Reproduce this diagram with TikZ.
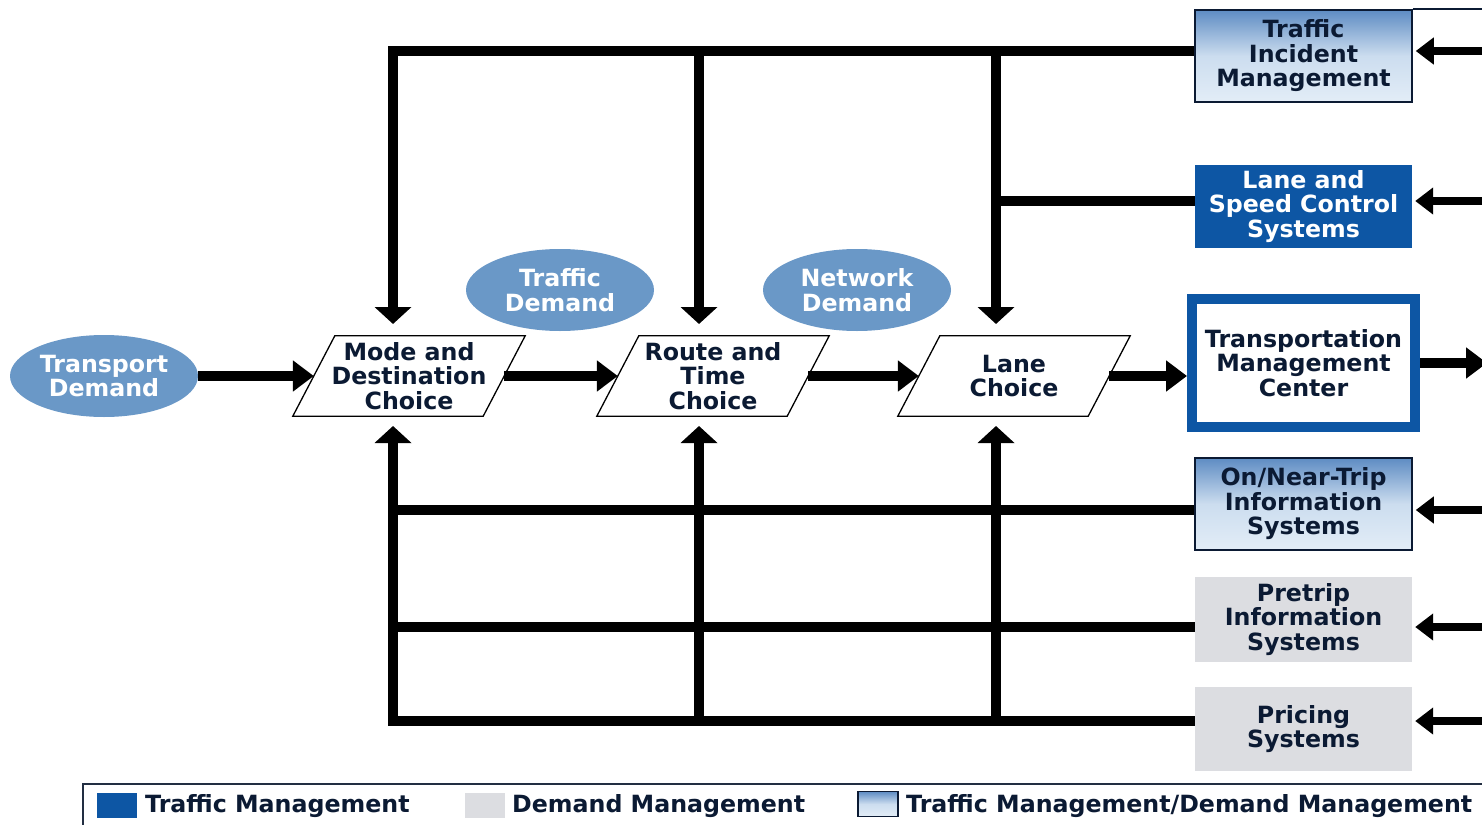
\documentclass[tikz,border=0pt]{standalone}
\usepackage{fontspec}
\setmainfont{DejaVu Sans}
\usetikzlibrary{arrows.meta,shapes.geometric,calc}
\definecolor{ellblue}{HTML}{6A98C7}
\definecolor{tmblue}{HTML}{0D56A4}
\definecolor{dmgray}{HTML}{DCDDE1}
\definecolor{navy}{HTML}{0B1A33}
\definecolor{gradtop}{HTML}{5E8CC3}
\definecolor{gradmid}{HTML}{CCDDEF}
\definecolor{gradbot}{HTML}{E3EDF7}
\begin{document}
\begin{tikzpicture}[x=1pt,y=-1pt,
  lbl/.style={font=\fontsize{23.7}{24.5}\selectfont\bfseries, align=center, text=navy},
  demand/.style={ellipse, fill=ellblue, minimum width=188pt, minimum height=82pt, inner sep=0pt, lbl, text=white},
  choice/.style={rectangle, minimum width=190pt, minimum height=80pt, inner sep=0pt, lbl},
  sysbox/.style={rectangle, minimum width=217pt, inner sep=0pt, lbl},
  tmbox/.style={sysbox, fill=tmblue, text=white},
  dmbox/.style={sysbox, fill=dmgray},
  mixbox/.style={sysbox, draw=navy, line width=1.5pt, top color=gradtop, bottom color=gradbot, middle color=gradmid},
  paraline/.style={draw=black, line width=1.3pt, line join=miter},
  bus/.style={draw=black, line width=10pt, line join=miter},
  vtip/.style={-{Triangle[length=17pt,width=36pt]}},
  flow/.style={draw=black, line width=10pt, -{Triangle[length=21pt,width=30pt]}},
  inarrow/.style={draw=black, line width=8pt, -{Triangle[length=18pt,width=26pt]}, shorten >=3pt},
  legline/.style={draw=navy!80!gray, line width=1.6pt}
]
\path[use as bounding box, fill=white] (0,0) rectangle (1482,824);

% helper coordinates
\coordinate (xA) at (393,0);
\coordinate (xB) at (699,0);
\coordinate (xC) at (996,0);
\coordinate (xIn) at (1484,0);
\coordinate (xOut) at (1487,0);
\coordinate (yTop) at (0,51);
\coordinate (yLS) at (0,201);
\coordinate (yOn) at (0,510);
\coordinate (yPre) at (0,627);
\coordinate (yPr) at (0,721);
\coordinate (yDn) at (0,324);
\coordinate (yUp) at (0,426);

% demand ellipses
\node[demand] (td) at (104,376) {Transport\\Demand};
\node[demand] (trd) at (560,290) {Traffic\\Demand};
\node[demand] (nd) at (857,290) {Network\\Demand};

% choices
\node[choice] (mode) at (409,376) {Mode and\\Destination\\Choice};
\node[choice] (route) at (713,376) {Route and\\Time\\Choice};
\node[choice] (lane) at (1014,376) {Lane\\Choice};
\foreach \n in {mode,route,lane}
  \draw[paraline] ($(\n.north west)+(21,0)$) -- ($(\n.north east)+(21,0)$)
    -- ($(\n.south east)+(-21,0)$) -- ($(\n.south west)+(-21,0)$) -- cycle;

% system boxes
\node[mixbox, minimum height=92pt] (tim) at (1303.5,56) {Traffic\\Incident\\Management};
\node[tmbox, minimum height=83pt] (lsc) at (1303.5,206.5) {Lane and\\Speed Control\\Systems};
\node[rectangle, draw=tmblue, line width=10pt, fill=white, minimum width=223pt, minimum height=128pt, inner sep=0pt, lbl] (tmc) at (1303.5,363) {Transportation\\Management\\Center};
\node[mixbox, minimum height=92pt] (onear) at (1303.5,504) {On/Near-Trip\\Information\\Systems};
\node[dmbox, minimum height=85pt] (pretrip) at (1303.5,619.5) {Pretrip\\Information\\Systems};
\node[dmbox, minimum height=84pt] (pricing) at (1303.5,729) {Pricing\\Systems};

% thin top line
\draw[line width=1.5pt, navy] (tim.north east) -- (xIn |- tim.north east);

% top bus
\draw[bus, vtip] (tim.west |- yTop) -- (xA |- yTop) -- (xA |- yDn);
\draw[bus, vtip] (xB |- yTop) -- (xB |- yDn);
\draw[bus, vtip] (xC |- yTop) -- (xC |- yDn);
\draw[bus] (xC |- yLS) -- (lsc.west |- yLS);

% bottom bus
\draw[bus, vtip] (pricing.west |- yPr) -- (xA |- yPr) -- (xA |- yUp);
\draw[bus, vtip] (xB |- yPr) -- (xB |- yUp);
\draw[bus, vtip] (xC |- yPr) -- (xC |- yUp);
\draw[bus] (xA |- yOn) -- (onear.west |- yOn);
\draw[bus] (xA |- yPre) -- (pretrip.west |- yPre);

% main flow
\draw[flow] (td.east) -- (mode.west);
\draw[flow] (mode.east) -- (route.west);
\draw[flow] (route.east) -- (lane.west);
\draw[flow] (lane.east) -- (lane.east -| tmc.west);
\draw[flow] (tmc.east) -- (xOut |- tmc.east);

% incoming arrows
\draw[inarrow] (xIn |- yTop) -- (tim.east |- yTop);
\draw[inarrow] (xIn |- yLS) -- (lsc.east |- yLS);
\draw[inarrow] (xIn |- yOn) -- (onear.east |- yOn);
\draw[inarrow] (xIn |- yPre) -- (pretrip.east |- yPre);
\draw[inarrow] (xIn |- yPr) -- (pricing.east |- yPr);

% legend
\coordinate (lgTR) at (1484,784);
\coordinate (lgTL) at (83,784);
\coordinate (lgBL) at (83,826);
\draw[legline] (lgTR) -- (lgTL) -- (lgBL);
\node[fill=tmblue, minimum width=40pt, minimum height=25pt, inner sep=0pt] (sw1) at (117,805) {};
\node[lbl, anchor=west, inner sep=0pt] (lg1) at (145,806) {Traffic Management};
\node[fill=dmgray, minimum width=40pt, minimum height=25pt, inner sep=0pt] (sw2) at (485,805) {};
\node[lbl, anchor=west, inner sep=0pt] (lg2) at (512,806) {Demand Management};
\node[draw=navy, line width=1.3pt, top color=gradtop, bottom color=gradbot, middle color=gradmid, minimum width=40pt, minimum height=25pt, inner sep=0pt] (sw3) at (878,804) {};
\node[lbl, anchor=west, inner sep=0pt] (lg3) at (906,806) {Traffic Management/Demand Management};
\end{tikzpicture}
\end{document}
